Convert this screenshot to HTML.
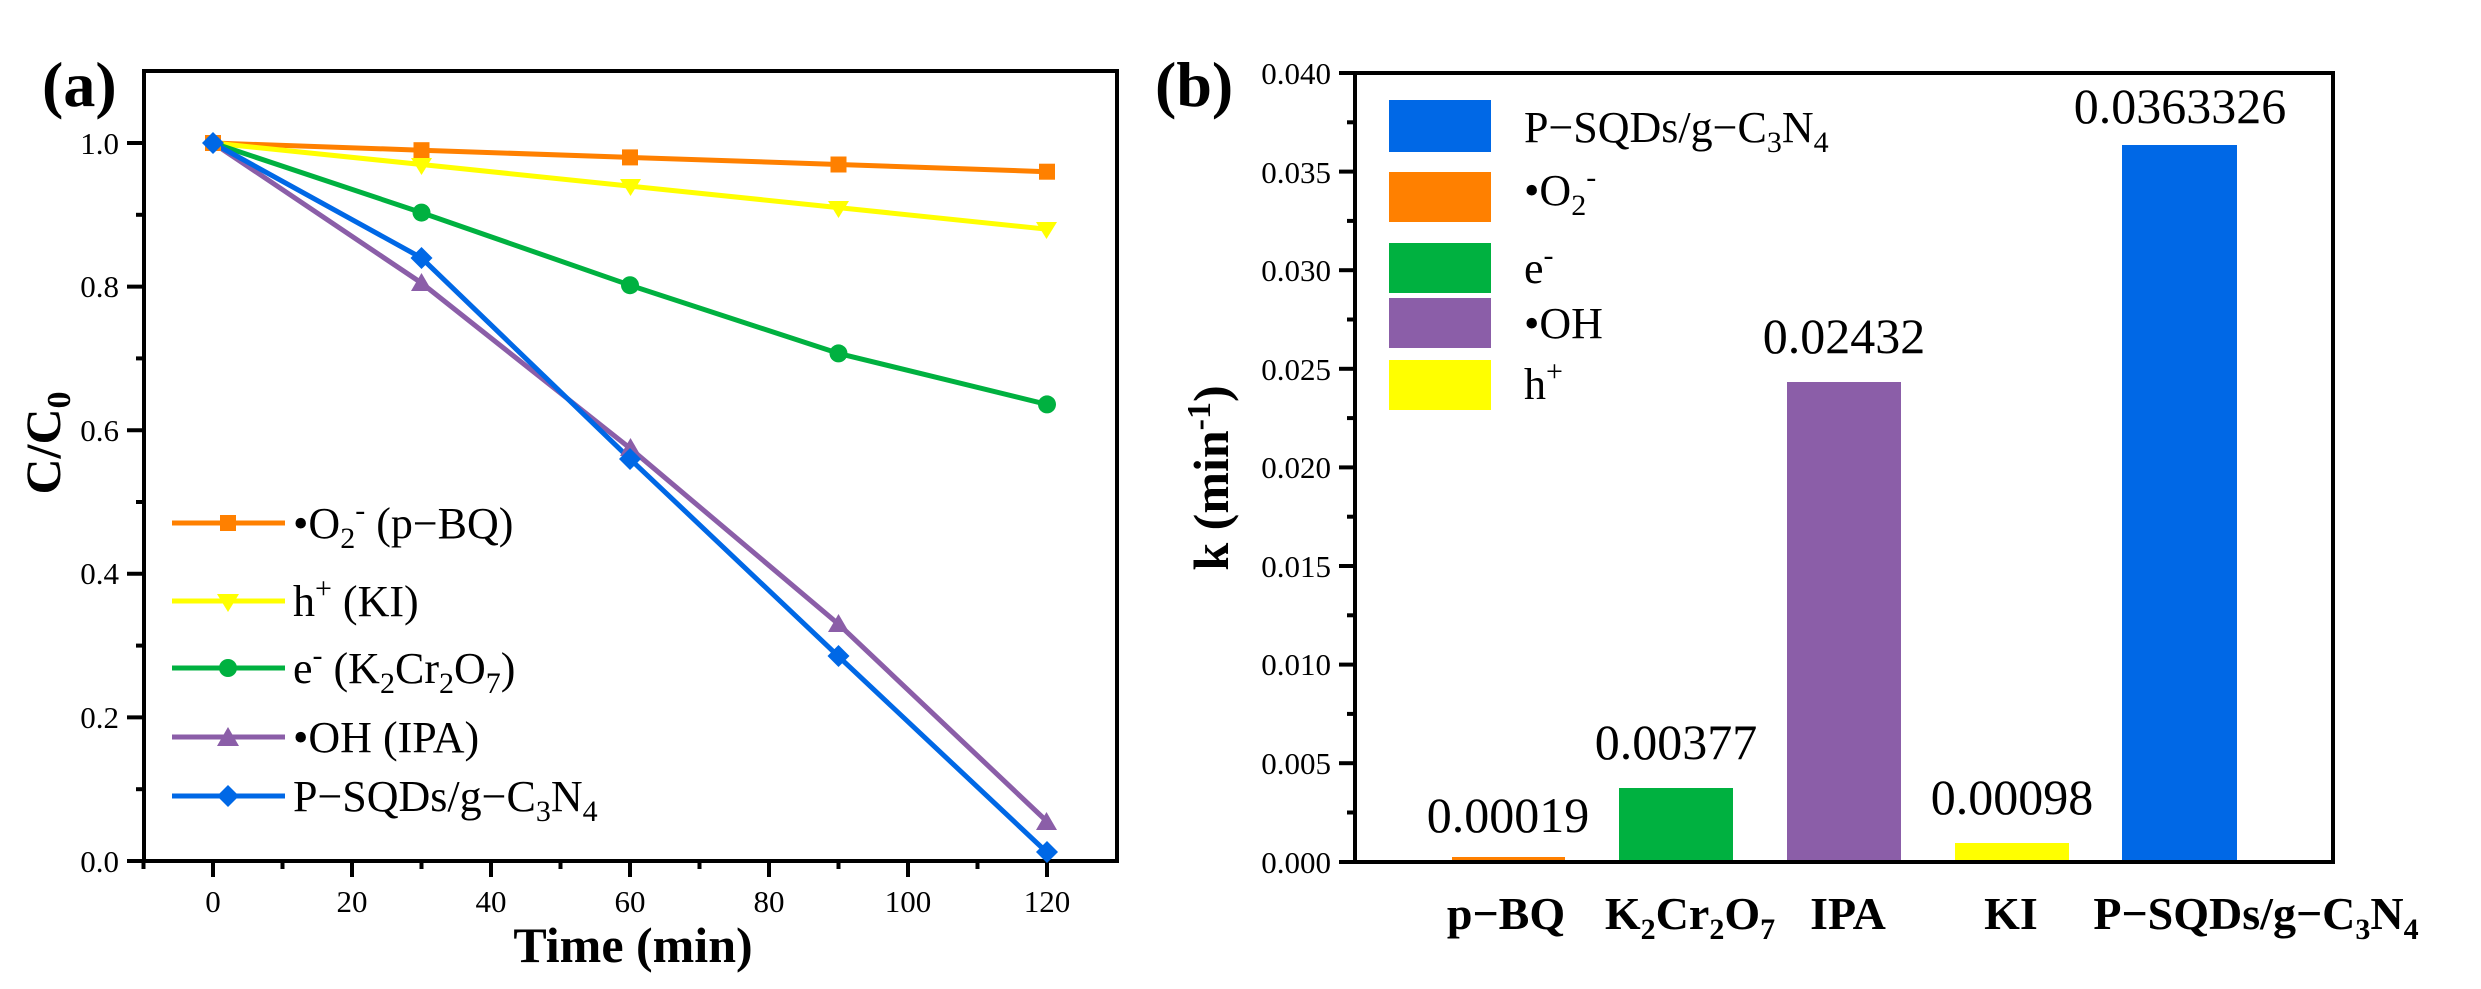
<!DOCTYPE html>
<html><head><meta charset="utf-8"><style>
html,body{margin:0;padding:0;background:#fff}
svg{display:block}
text{font-family:"Liberation Serif",serif;fill:#000}
</style></head><body>
<svg width="2481" height="989" viewBox="0 0 2481 989" xmlns="http://www.w3.org/2000/svg">
<!-- Panel a -->
<text x="42" y="106" font-size="64" font-weight="bold">(a)</text>
<rect x="144" y="71" width="973" height="790" fill="none" stroke="#000" stroke-width="4"/>
<g stroke="#000" stroke-width="4">
<line x1="127" y1="143" x2="144" y2="143"/><line x1="127" y1="286.6" x2="144" y2="286.6"/><line x1="127" y1="430.2" x2="144" y2="430.2"/><line x1="127" y1="573.8" x2="144" y2="573.8"/><line x1="127" y1="717.4" x2="144" y2="717.4"/><line x1="127" y1="861" x2="144" y2="861"/>
<line x1="136" y1="214.8" x2="144" y2="214.8"/><line x1="136" y1="358.4" x2="144" y2="358.4"/><line x1="136" y1="502" x2="144" y2="502"/><line x1="136" y1="645.6" x2="144" y2="645.6"/><line x1="136" y1="789.2" x2="144" y2="789.2"/>
<line x1="213" y1="861" x2="213" y2="877"/><line x1="352" y1="861" x2="352" y2="877"/><line x1="491" y1="861" x2="491" y2="877"/><line x1="630" y1="861" x2="630" y2="877"/><line x1="769" y1="861" x2="769" y2="877"/><line x1="908" y1="861" x2="908" y2="877"/><line x1="1047" y1="861" x2="1047" y2="877"/>
<line x1="143.5" y1="861" x2="143.5" y2="869"/><line x1="282.5" y1="861" x2="282.5" y2="869"/><line x1="421.5" y1="861" x2="421.5" y2="869"/><line x1="560.5" y1="861" x2="560.5" y2="869"/><line x1="699.5" y1="861" x2="699.5" y2="869"/><line x1="838.5" y1="861" x2="838.5" y2="869"/><line x1="977.5" y1="861" x2="977.5" y2="869"/>
</g>
<g font-size="31" text-anchor="end">
<text x="119" y="154">1.0</text><text x="119" y="297">0.8</text><text x="119" y="441">0.6</text><text x="119" y="584">0.4</text><text x="119" y="728">0.2</text><text x="119" y="872">0.0</text>
</g>
<g font-size="31" text-anchor="middle">
<text x="213" y="912">0</text><text x="352" y="912">20</text><text x="491" y="912">40</text><text x="630" y="912">60</text><text x="769" y="912">80</text><text x="908" y="912">100</text><text x="1047" y="912">120</text>
</g>
<text x="633" y="962" font-size="50" font-weight="bold" text-anchor="middle">Time (min)</text>
<text transform="translate(60,443) rotate(-90)" font-size="50" font-weight="bold" text-anchor="middle">C/C<tspan font-size="34" dy="10">0</tspan></text>
<!-- series -->
<g fill="none" stroke-width="5" stroke-linejoin="round">
<polyline stroke="#ff8000" points="213,143 421.5,150.2 630,157.4 838.5,164.5 1047,171.7"/>
<polyline stroke="#ffff00" points="213,143 421.5,164.5 630,186.1 838.5,207.6 1047,229.2"/>
<polyline stroke="#00b140" points="213,143 421.5,212.6 630,285.2 838.5,353.4 1047,404.4"/>
<polyline stroke="#8b5ea8" points="213,143 421.5,283 630,448.2 838.5,624.1 1047,821.5"/>
<polyline stroke="#0068e6" points="213,143 421.5,257.9 630,458.9 838.5,656.4 1047,852.4"/>
</g>
<g fill="#ff8000"><rect x="205" y="135" width="16" height="16"/><rect x="413.5" y="142.2" width="16" height="16"/><rect x="622" y="149.4" width="16" height="16"/><rect x="830.5" y="156.5" width="16" height="16"/><rect x="1039" y="163.7" width="16" height="16"/></g>
<g fill="#ffff00"><path d="M411,158 h21 l-10.5,17z"/><path d="M620,179 h21 l-10.5,17z"/><path d="M828,201 h21 l-10.5,17z"/><path d="M1036,222 h21 l-10.5,17z"/></g>
<g fill="#00b140"><circle cx="421.5" cy="212.6" r="9"/><circle cx="630" cy="285.2" r="9"/><circle cx="838.5" cy="353.4" r="9"/><circle cx="1047" cy="404.4" r="9"/></g>
<g fill="#8b5ea8"><path d="M411,291 h21 l-10.5,-18z"/><path d="M620,456 h21 l-10.5,-18z"/><path d="M828,632 h21 l-10.5,-18z"/><path d="M1036,830 h21 l-10.5,-18z"/></g>
<g fill="#0068e6"><path d="M213,132 l11,11 l-11,11 l-11,-11z"/><path d="M421.5,247 l11,11 l-11,11 l-11,-11z"/><path d="M630,448 l11,11 l-11,11 l-11,-11z"/><path d="M838.5,645 l11,11 l-11,11 l-11,-11z"/><path d="M1047,841 l11,11 l-11,11 l-11,-11z"/></g>
<!-- legend a -->
<g stroke-width="5">
<line x1="172" y1="523" x2="285" y2="523" stroke="#ff8000"/>
<line x1="172" y1="601" x2="285" y2="601" stroke="#ffff00"/>
<line x1="172" y1="668" x2="285" y2="668" stroke="#00b140"/>
<line x1="172" y1="737" x2="285" y2="737" stroke="#8b5ea8"/>
<line x1="172" y1="796" x2="285" y2="796" stroke="#0068e6"/>
</g>
<rect x="220" y="515" width="16" height="16" fill="#ff8000"/>
<path d="M217,594 h22 l-11,18z" fill="#ffff00"/>
<circle cx="228" cy="668" r="9" fill="#00b140"/>
<path d="M217,746 h22 l-11,-19z" fill="#8b5ea8"/>
<path d="M228,785 l11,11 l-11,11 l-11,-11z" fill="#0068e6"/>
<g font-size="44">
<text x="293" y="538">•O<tspan font-size="30" dy="10">2</tspan><tspan font-size="30" dy="-28">-</tspan><tspan dy="18"> (p−BQ)</tspan></text>
<text x="293" y="616">h<tspan font-size="30" dy="-18">+</tspan><tspan dy="18"> (KI)</tspan></text>
<text x="293" y="683">e<tspan font-size="30" dy="-18">-</tspan><tspan dy="18"> (K</tspan><tspan font-size="30" dy="10">2</tspan><tspan dy="-10">Cr</tspan><tspan font-size="30" dy="10">2</tspan><tspan dy="-10">O</tspan><tspan font-size="30" dy="10">7</tspan><tspan dy="-10">)</tspan></text>
<text x="293" y="752">•OH (IPA)</text>
<text x="293" y="811">P−SQDs/g−C<tspan font-size="30" dy="10">3</tspan><tspan dy="-10">N</tspan><tspan font-size="30" dy="10">4</tspan></text>
</g>
<!-- Panel b -->
<text x="1155" y="106" font-size="64" font-weight="bold">(b)</text>
<g>
<rect x="1452" y="857" width="113" height="5" fill="#ff8000"/>
<rect x="1619" y="788" width="114" height="74" fill="#00b140"/>
<rect x="1787" y="382" width="114" height="480" fill="#8b5ea8"/>
<rect x="1955" y="843" width="114" height="19" fill="#ffff00"/>
<rect x="2122" y="145" width="115" height="717" fill="#0068e6"/>
</g>
<rect x="1355" y="73" width="978" height="789" fill="none" stroke="#000" stroke-width="4"/>
<g stroke="#000" stroke-width="4">
<line x1="1339" y1="73" x2="1355" y2="73"/><line x1="1339" y1="171.6" x2="1355" y2="171.6"/><line x1="1339" y1="270.2" x2="1355" y2="270.2"/><line x1="1339" y1="368.8" x2="1355" y2="368.8"/><line x1="1339" y1="467.4" x2="1355" y2="467.4"/><line x1="1339" y1="566" x2="1355" y2="566"/><line x1="1339" y1="664.6" x2="1355" y2="664.6"/><line x1="1339" y1="763.2" x2="1355" y2="763.2"/><line x1="1339" y1="862" x2="1355" y2="862"/>
<line x1="1347" y1="122.3" x2="1355" y2="122.3"/><line x1="1347" y1="220.9" x2="1355" y2="220.9"/><line x1="1347" y1="319.5" x2="1355" y2="319.5"/><line x1="1347" y1="418.1" x2="1355" y2="418.1"/><line x1="1347" y1="516.7" x2="1355" y2="516.7"/><line x1="1347" y1="615.3" x2="1355" y2="615.3"/><line x1="1347" y1="713.9" x2="1355" y2="713.9"/><line x1="1347" y1="812.5" x2="1355" y2="812.5"/>
</g>
<g font-size="31" text-anchor="end">
<text x="1331" y="84">0.040</text><text x="1331" y="183">0.035</text><text x="1331" y="281">0.030</text><text x="1331" y="380">0.025</text><text x="1331" y="478">0.020</text><text x="1331" y="577">0.015</text><text x="1331" y="675">0.010</text><text x="1331" y="774">0.005</text><text x="1331" y="873">0.000</text>
</g>
<text transform="translate(1228,478) rotate(-90)" font-size="50" font-weight="bold" text-anchor="middle">k (min<tspan font-size="34" dy="-18">-1</tspan><tspan dy="18">)</tspan></text>
<g font-size="50" text-anchor="middle">
<text x="1508" y="832">0.00019</text>
<text x="1676" y="759">0.00377</text>
<text x="1844" y="353">0.02432</text>
<text x="2012" y="814">0.00098</text>
<text x="2180" y="123">0.0363326</text>
</g>
<g font-size="46" font-weight="bold" text-anchor="middle">
<text x="1506" y="929">p−BQ</text>
<text x="1690" y="929">K<tspan font-size="30" dy="10">2</tspan><tspan dy="-10">Cr</tspan><tspan font-size="30" dy="10">2</tspan><tspan dy="-10">O</tspan><tspan font-size="30" dy="10">7</tspan></text>
<text x="1848" y="929">IPA</text>
<text x="2011" y="929">KI</text>
<text x="2256" y="929">P−SQDs/g−C<tspan font-size="30" dy="10">3</tspan><tspan dy="-10">N</tspan><tspan font-size="30" dy="10">4</tspan></text>
</g>
<!-- legend b -->
<rect x="1389" y="100" width="102" height="52" fill="#0068e6"/>
<rect x="1389" y="172" width="102" height="50" fill="#ff8000"/>
<rect x="1389" y="243" width="102" height="50" fill="#00b140"/>
<rect x="1389" y="298" width="102" height="50" fill="#8b5ea8"/>
<rect x="1389" y="360" width="102" height="50" fill="#ffff00"/>
<g font-size="44">
<text x="1524" y="142">P−SQDs/g−C<tspan font-size="30" dy="10">3</tspan><tspan dy="-10">N</tspan><tspan font-size="30" dy="10">4</tspan></text>
<text x="1524" y="205">•O<tspan font-size="30" dy="10">2</tspan><tspan font-size="30" dy="-28">-</tspan></text>
<text x="1524" y="283">e<tspan font-size="30" dy="-18">-</tspan></text>
<text x="1524" y="338">•OH</text>
<text x="1524" y="399">h<tspan font-size="30" dy="-18">+</tspan></text>
</g>
</svg>
</body></html>
